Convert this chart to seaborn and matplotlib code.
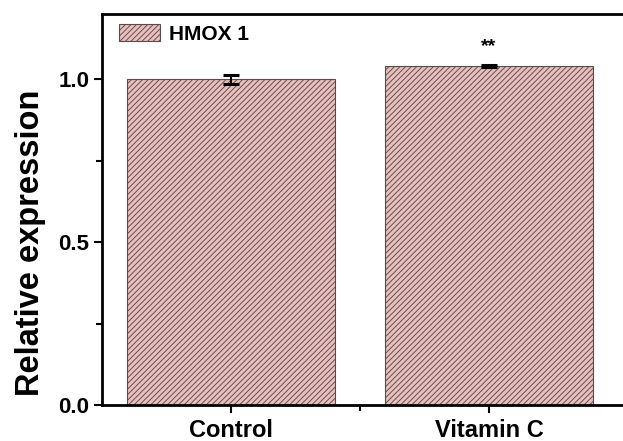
import matplotlib
matplotlib.use("Agg")
import matplotlib.pyplot as plt
import seaborn as sns
import pandas as pd
from matplotlib.patches import Patch
from matplotlib.ticker import MultipleLocator, FixedLocator

groups = ["Control", "Vitamin C"]
values = [1.00, 1.04]
errors = [0.014, 0.003]
signif = ["", "**"]
series_name = "HMOX 1"

sns.set_style("ticks")
plt.rcParams["font.family"] = ["Liberation Sans", "DejaVu Sans"]
plt.rcParams["font.weight"] = "bold"
plt.rcParams["text.color"] = "black"
plt.rcParams["axes.labelcolor"] = "black"
plt.rcParams["xtick.color"] = "black"
plt.rcParams["ytick.color"] = "black"
plt.rcParams["hatch.linewidth"] = 0.65
plt.rcParams["hatch.color"] = "#c27e7e"

df = pd.DataFrame({"group": groups, "value": values})

fig = plt.figure(figsize=(6.23, 4.41), dpi=100)
ax = fig.add_axes([102 / 623, 36 / 441, 521 / 623, 391 / 441])

face = "#e8bebe"
edge = "#5a4a4a"
sns.barplot(data=df, x="group", y="value", color=face, width=0.805,
            errorbar=None, ax=ax, saturation=1)
for p in ax.patches:
    p.set_hatch("//////")
    p.set_edgecolor(edge)
    p.set_linewidth(0.8)
    p.set_facecolor(face)

ax.errorbar(range(len(groups)), values, yerr=errors, fmt="none",
            ecolor="black", elinewidth=1.5, capsize=6, capthick=2.2)
for i, (v, e, s) in enumerate(zip(values, errors, signif)):
    if s:
        ax.text(i, v + e + 0.03, s, ha="center", va="bottom",
                fontsize=14, fontweight="bold", color="black")

ax.set_ylim(0, 1.2)
ax.set_xlim(-0.5, 1.52)
ax.yaxis.set_minor_locator(MultipleLocator(0.25))
ax.xaxis.set_minor_locator(FixedLocator([0.5]))
ax.set_yticks([0.0, 0.5, 1.0])
ax.set_yticklabels(["0.0", "0.5", "1.0"])

ax.set_xlabel("")
ax.set_ylabel("Relative expression", fontsize=23.5, fontweight="bold",
              color="black")
ax.yaxis.set_label_coords(-0.107, 0.414)
ax.tick_params(axis="both", which="major", direction="out", length=6,
               width=1.5, labelsize=16, pad=3, color="black", labelcolor="black")
ax.tick_params(axis="both", which="minor", direction="out", length=4,
               width=1.5, color="black")
ax.tick_params(axis="x", labelsize=17, pad=4)
for lab in ax.get_xticklabels() + ax.get_yticklabels():
    lab.set_fontweight("bold")

for side in ["left", "bottom", "top"]:
    ax.spines[side].set_linewidth(2)
    ax.spines[side].set_color("black")
ax.spines["right"].set_visible(False)

handle = Patch(facecolor=face, edgecolor=edge, hatch="//////",
               linewidth=0.8, label=series_name)
ax.legend(handles=[handle], loc="upper left", frameon=False,
          prop={"weight": "bold", "size": 15}, handlelength=2.0,
          handleheight=0.85, borderaxespad=0.2, handletextpad=0.4,
          borderpad=0.3, bbox_to_anchor=(0.012, 1.0), labelcolor="black")

fig.savefig("out.png", dpi=100)
